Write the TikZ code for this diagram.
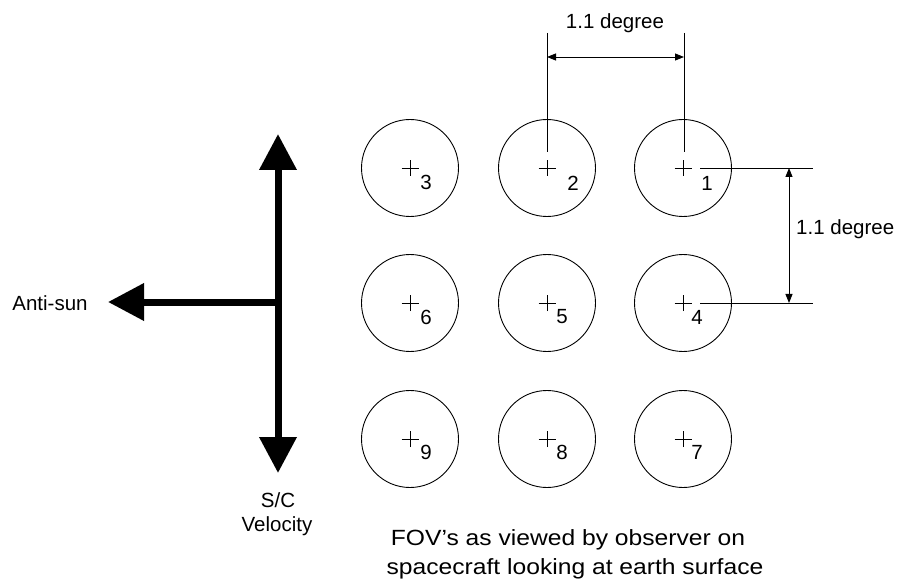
\documentclass[tikz,border=0pt]{standalone}
\usepackage{fontspec}
\setmainfont{Liberation Sans}
\usepackage{graphicx}
\usetikzlibrary{arrows.meta}
\begin{document}
\begin{tikzpicture}[x=1pt,y=-1pt,
  fov/.style={draw,circle,line width=0.9pt,minimum size=97pt,inner sep=0pt},
  lbl/.style={font=\fontsize{20.5}{24}\selectfont,inner sep=0pt},
  thin/.style={line width=0.9pt},
  dimarrow/.style={line width=0.9pt,{Triangle[length=9pt,width=7pt]}-{Triangle[length=9pt,width=7pt]}},
  bigline/.style={line width=7pt},
  bigtip/.style={line width=7pt,-{Triangle[length=36pt,width=36pt]}}]
\useasboundingbox (0,0) rectangle (900,580);
% circles
\foreach \n/\x/\y in {1/683/168,2/547/168,3/410/168,4/683/303,5/547/303,6/410/303,7/683/439,8/547/439,9/410/439}{
  \node[fov] (c\n) at (\x,\y) {};
  \draw[thin] ([xshift=-8.5pt]c\n.center) -- ([xshift=8.5pt]c\n.center)
              ([yshift=-8pt]c\n.center) -- ([yshift=8pt]c\n.center);
}
% number labels
\node[lbl] (n1) at (707,183) {1};
\node[lbl] (n2) at (573,183) {2};
\node[lbl] (n3) at (426,182) {3};
\node[lbl] (n4) at (697,317) {4};
\node[lbl] (n5) at (562,317) {5};
\node[lbl] (n6) at (426,317) {6};
\node[lbl] (n7) at (697,452) {7};
\node[lbl] (n8) at (562,452) {8};
\node[lbl] (n9) at (426,452) {9};
% top dimension
\coordinate (ta) at (547,33);
\coordinate (tb) at (547,152);
\coordinate (tc) at (684,33);
\coordinate (td) at (684,152);
\draw[thin] (ta) -- (tb) (tc) -- (td);
\coordinate (ha) at (547,57);
\coordinate (hb) at (684,57);
\draw[dimarrow] (ha) -- (hb);
\node[lbl] (dtop) at (615,23) {1.1 degree};
% right dimension
\coordinate (ra) at (700,168);
\coordinate (rb) at (813,168);
\coordinate (rc) at (700,303);
\coordinate (rd) at (813,303);
\draw[thin] (ra) -- (rb) (rc) -- (rd);
\coordinate (va) at (789,168);
\coordinate (vb) at (789,303);
\draw[dimarrow] (va) -- (vb);
\node[lbl,anchor=west] (dright) at (796,229) {1.1 degree};
% big arrows
\coordinate (hub) at (278,302);
\coordinate (up) at (278,134);
\coordinate (down) at (278,473);
\coordinate (left) at (108,302);
\draw[bigtip] (hub) -- (up);
\draw[bigtip] (hub) -- (down);
\draw[bigtip] ([xshift=3.5pt]hub) -- (left);
\node[lbl] (antisun) at (50,303) {Anti-sun};
\node[lbl] (sc) at (278,500) {S/C};
\node[lbl] (vel) at (277,526) {Velocity};
% caption
\node[font=\fontsize{22}{30}\selectfont,inner sep=0pt] (cap1) at (568,540) {\scalebox{1.12}[1]{FOV’s as viewed by observer on}};
\node[font=\fontsize{22}{30}\selectfont,inner sep=0pt] (cap2) at (575,569) {\scalebox{1.12}[1]{spacecraft looking at earth surface}};
\end{tikzpicture}
\end{document}
